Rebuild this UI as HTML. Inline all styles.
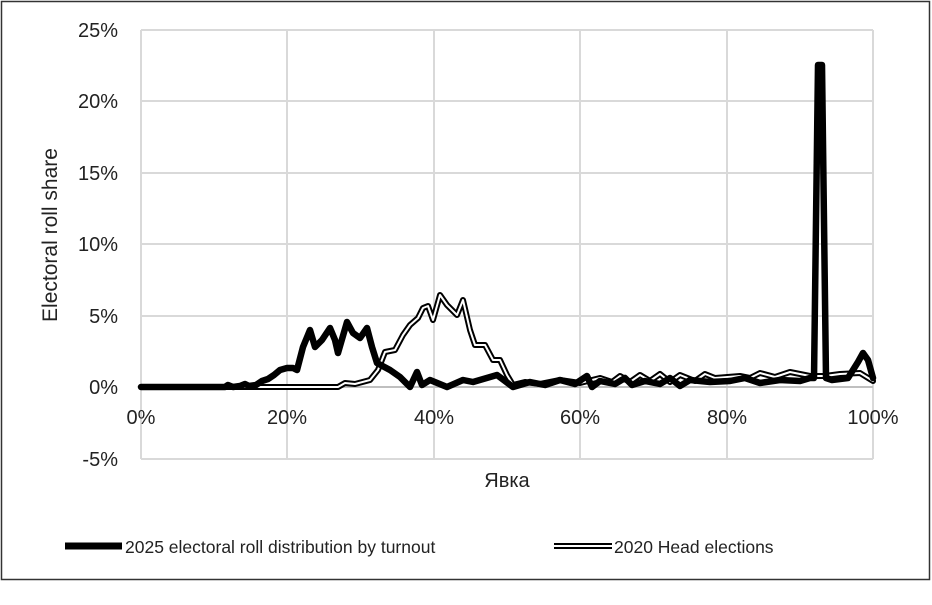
<!DOCTYPE html><html><head><style>body{margin:0;background:#fff}svg{display:block;font-family:"Liberation Sans",sans-serif}</style></head><body>
<svg width="932" height="605" viewBox="0 0 932 605">
<rect x="1.5" y="1.5" width="928" height="578" fill="#fff" stroke="#333" stroke-width="1.5"/>
<g stroke="#d9d9d9" stroke-width="2">
<line x1="141" y1="30" x2="873" y2="30"/><line x1="141" y1="101" x2="873" y2="101"/><line x1="141" y1="173" x2="873" y2="173"/><line x1="141" y1="244" x2="873" y2="244"/><line x1="141" y1="316" x2="873" y2="316"/><line x1="141" y1="459" x2="873" y2="459"/>
<line x1="141" y1="30" x2="141" y2="459"/><line x1="287" y1="30" x2="287" y2="459"/><line x1="434" y1="30" x2="434" y2="459"/><line x1="580" y1="30" x2="580" y2="459"/><line x1="727" y1="30" x2="727" y2="459"/><line x1="873" y1="30" x2="873" y2="459"/>
</g>
<line x1="141" y1="387" x2="873" y2="387" stroke="#bfbfbf" stroke-width="2"/>
<g font-size="20" fill="#222" text-anchor="end">
<text x="118" y="37">25%</text><text x="118" y="108">20%</text><text x="118" y="180">15%</text><text x="118" y="251">10%</text><text x="118" y="323">5%</text><text x="118" y="394">0%</text><text x="118" y="466">-5%</text></g>
<g font-size="20" fill="#222" text-anchor="middle">
<text x="141" y="424">0%</text><text x="287" y="424">20%</text><text x="434" y="424">40%</text><text x="580" y="424">60%</text><text x="727" y="424">80%</text><text x="873" y="424">100%</text>
<text x="507" y="487">Явка</text></g>
<text transform="translate(57,235) rotate(-90)" font-size="21" fill="#222" text-anchor="middle">Electoral roll share</text>
<g fill="none" stroke-linejoin="round" stroke-linecap="round">
<polyline stroke="#000" stroke-width="6" points="141,387 338,387 345,383 355,384 370,380 378,370 385,352 395,350 403,335 410,325 418,318 423,308 428,306 433,320 440,295 447,305 457,315 463,300 470,330 475,345 485,345 493,360 500,360 507,375 513,385 525,382 540,384 560,380 580,383 600,378 612,382 620,376 630,382 640,375 650,381 660,374 670,382 680,375 695,381 705,374 715,378 740,376 750,378 760,373 775,377 790,372 810,376 825,376 840,374 860,373 873,381"/>
<polyline stroke="#fff" stroke-width="2" points="141,387 338,387 345,383 355,384 370,380 378,370 385,352 395,350 403,335 410,325 418,318 423,308 428,306 433,320 440,295 447,305 457,315 463,300 470,330 475,345 485,345 493,360 500,360 507,375 513,385 525,382 540,384 560,380 580,383 600,378 612,382 620,376 630,382 640,375 650,381 660,374 670,382 680,375 695,381 705,374 715,378 740,376 750,378 760,373 775,377 790,372 810,376 825,376 840,374 860,373 873,381"/>
<polyline stroke="#000" stroke-width="6.5" points="141,387 225,387 228,385 233,387 240,386 245,384 249,386 256,385 262,381 268,379 274,375 280,370 287,368 293,368 297,370 303,347 310,330 315,347 322,340 330,328 335,340 338,353 347,322 353,333 360,338 367,328 372,347 377,363 390,370 400,377 410,387 417,372 422,385 430,380 447,387 463,380 473,382 497,375 513,387 530,382 545,385 560,380 575,384 587,376 592,387 600,381 615,384 625,378 632,385 645,381 660,384 670,378 680,386 690,380 710,382 730,381 745,378 760,383 780,380 800,381 810,378 814,378 818,65 822,65 826,378 832,380 848,378 858,362 863,353 868,360 873,378"/>
</g>
<line x1="65" y1="546" x2="122" y2="546" stroke="#000" stroke-width="7"/>
<text x="125" y="553" font-size="17.5" fill="#222">2025 electoral roll distribution by turnout</text>
<line x1="554" y1="546" x2="612" y2="546" stroke="#000" stroke-width="6"/>
<line x1="554" y1="546" x2="612" y2="546" stroke="#fff" stroke-width="2"/>
<text x="614" y="553" font-size="17.5" fill="#222">2020 Head elections</text>
</svg></body></html>
